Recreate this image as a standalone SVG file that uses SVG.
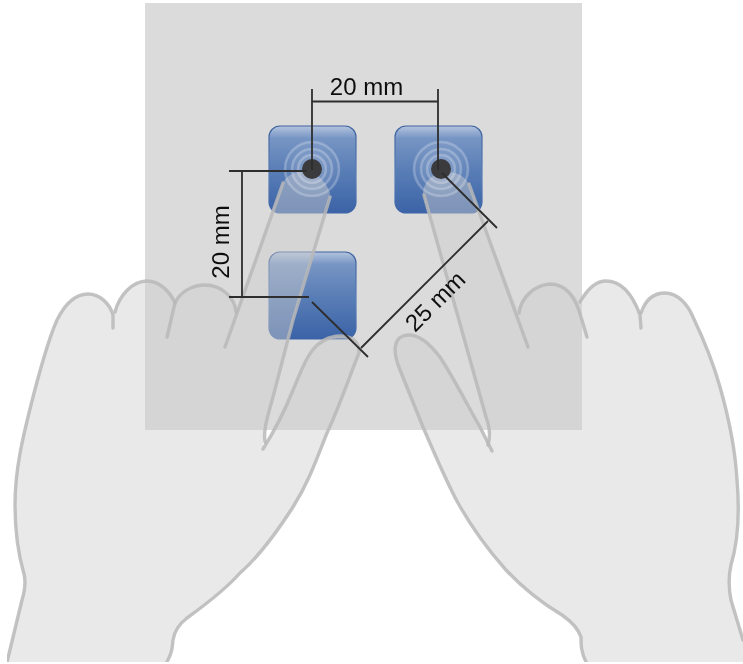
<svg xmlns="http://www.w3.org/2000/svg" width="743" height="664" viewBox="0 0 743 664">
<style>
.hand{fill:#cfcfcf;fill-opacity:.45;stroke:none}
.edge{fill:none;stroke:#b8b8b8;stroke-width:3.4;stroke-linecap:round;stroke-linejoin:round;opacity:.85}
.dim{fill:none;stroke:#2e2e2e;stroke-width:1.8}
.btn{fill:url(#blue);stroke:url(#rim);stroke-width:1.2}
.ring{fill:#fff;fill-opacity:.07;stroke:#fff;stroke-opacity:.24;stroke-width:2.6}
.dot{fill:#3a3a3c}
.lbl{font-family:"Liberation Sans",Arial,sans-serif;font-size:24px;fill:#111;text-anchor:middle}
</style>
<defs>
<linearGradient id="blue" x1="0" y1="0" x2="0" y2="1">
<stop offset="0" stop-color="#b4c4de"/>
<stop offset=".14" stop-color="#7795c4"/>
<stop offset=".5" stop-color="#5a7eb6"/>
<stop offset="1" stop-color="#3b63a7"/>
</linearGradient>
<linearGradient id="rim" x1="0" y1="0" x2="0" y2="1">
<stop offset="0" stop-color="#3f639f"/>
<stop offset=".6" stop-color="#5a7eb6"/>
<stop offset="1" stop-color="#3b63a7"/>
</linearGradient>
<filter id="soft" x="0" y="0" width="1" height="1"><feGaussianBlur stdDeviation="0.5"/></filter>
</defs>
<g filter="url(#soft)">
<rect id="panel" x="145" y="3" width="437" height="427" fill="#dbdbdb"/>
<g id="button-1"><rect class="btn" x="269" y="126" width="87" height="87" rx="11"/></g>
<g id="button-2"><rect class="btn" x="395" y="126" width="87" height="87" rx="11"/></g>
<g id="button-3"><rect class="btn" x="269" y="252" width="87" height="87" rx="11"/></g>
<g id="left-hand">
<path class="hand" d="M7 662L22 600C25 590 26 582 24 574C17 550 15 530 15 505C15 470 22 440 33 397C40 370 48 340 57 320C64 306 74 294 88 294C100 294 110 304 113 315C119 296 132 281 147 281C160 281 170 292 175 303C180 292 192 285 205 285C222 285 235 298 236 312L283 183C292 165 322 168 330 193L293 320L273 397C268 415 263 430 263 448C275 430 285 410 293 390C303 368 310 337 340 336C352 336 360 342 359 353C350 375 340 405 327 433C318 455 310 480 293 507C275 535 255 560 240 573C225 590 205 605 187 618C178 625 174 633 173 640C172 650 172 652 167 662Z"/>
<path class="edge" d="M7 662L22 600C25 590 26 582 24 574C17 550 15 530 15 505C15 470 22 440 33 397C40 370 48 340 57 320C64 306 74 294 88 294C100 294 110 304 113 315L113 328"/>
<path class="edge" d="M115 312C119 296 132 281 147 281C160 281 170 292 175 303C172 315 170 325 167 337"/>
<path class="edge" d="M175 303C180 292 192 285 205 285C222 285 235 298 236 312"/>
<path class="edge" d="M225 347L283 183"/>
<path class="edge" d="M330 197L293 320L273 397C268 415 263 430 265 442"/>
<path class="edge" d="M263 449C275 430 285 410 293 390C303 368 310 337 340 336C352 336 360 342 359 353C350 375 340 405 327 433C318 455 310 480 293 507C275 535 255 560 240 573C225 590 205 605 187 618C178 625 174 633 173 640C172 650 172 652 167 662"/>
</g>
<g id="right-hand">
<path class="hand" d="M586 662C581 652 581 645 581 637C578 628 572 622 562 615C540 602 520 585 506 570C490 552 472 528 458 503C448 485 435 455 423 427L400 370C393 353 393 340 403 336C414 332 427 340 440 357C455 380 470 410 480 427L488 442C491 435 489 425 486 417L423 193C425 170 458 165 468 183L519 313C521 297 535 285 550 284C565 284 575 295 580 302C588 288 597 281 606 281C620 281 632 293 641 313C645 301 653 293 665 293C678 293 688 305 693 317C703 338 713 362 720 387C728 415 735 445 737 480C740 515 737 545 731 565C728 578 729 590 731 600L743 640V662Z"/>
<path class="edge" d="M586 662C581 652 581 645 581 637C578 628 572 622 562 615C540 602 520 585 506 570C490 552 472 528 458 503C448 485 435 455 423 427L400 370C393 353 393 340 403 336C414 332 427 340 440 357C455 380 470 410 480 427L492 451"/>
<path class="edge" d="M488 445C491 435 489 425 486 417L424 195"/>
<path class="edge" d="M469 184L528 347"/>
<path class="edge" d="M519 313C521 297 535 285 550 284C565 284 575 295 581 317L587 337"/>
<path class="edge" d="M580 302C588 288 597 281 606 281C620 281 632 293 640 315L641 328"/>
<path class="edge" d="M641 313C645 301 653 293 665 293C678 293 688 305 693 317C703 338 713 362 720 387C728 415 735 445 737 480C740 515 737 545 731 565C728 578 729 590 731 600L743 640"/>
</g>
<g id="touch-1">
<circle class="ring" cx="312" cy="169" r="27"/><circle class="ring" cx="312" cy="169" r="20"/><circle class="ring" cx="312" cy="169" r="14"/>
<circle class="dot" cx="312" cy="169" r="10"/>
</g>
<g id="touch-2">
<circle class="ring" cx="441" cy="169" r="27"/><circle class="ring" cx="441" cy="169" r="20"/><circle class="ring" cx="441" cy="169" r="14"/>
<circle class="dot" cx="441" cy="169" r="10"/>
</g>
<g id="connectors">
<path class="dim" d="M312 89V170M438 89V170M312 101.500H438"/>
<path class="dim" d="M229 171H307M229 297H309M242 171V297"/>
<path class="dim" d="M312 302L368 357M442 173L497 228M361 348L488 221"/>
</g>
<text class="lbl" x="366.500" y="95">20 mm</text>
<text class="lbl" transform="translate(229 242) rotate(-90)">20 mm</text>
<text class="lbl" transform="translate(441 307) rotate(-45)">25 mm</text>
</g>
</svg>
